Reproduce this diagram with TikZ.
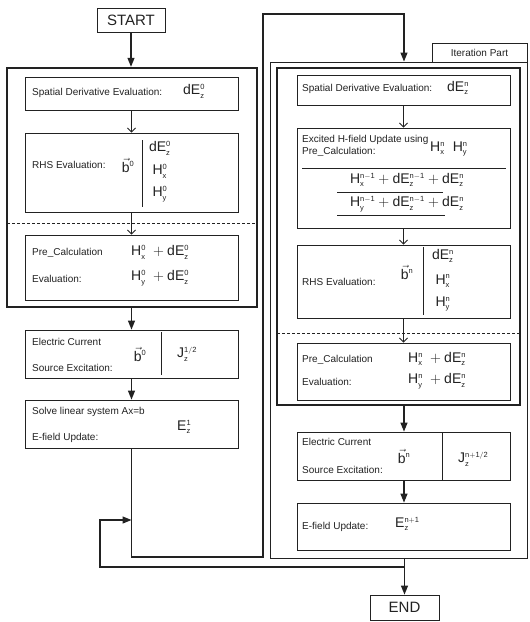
\documentclass[tikz,border=0pt]{standalone}
\usepackage{fontspec}
\setmainfont{Liberation Sans}
\setsansfont{Liberation Sans}
\usetikzlibrary{arrows.meta}
\definecolor{ink}{HTML}{222222}
\DeclareMathSizes{14}{14}{7.5}{6}
\newcommand\mth[1]{{\fontsize{14}{14}\selectfont$\mathrm{#1}$}}
\tikzset{
  box/.style={draw=ink, line width=0.8pt, inner sep=0pt, fill=white},
  thickbox/.style={draw=ink, line width=2.4pt, inner sep=0pt},
  itbox/.style={draw=ink, line width=0.9pt, inner sep=0pt},
  lbl/.style={anchor=west, inner sep=0pt, font=\fontsize{10}{11}\selectfont, text=ink},
  mt/.style={anchor=west, inner sep=0pt, text=ink},
  mc/.style={anchor=center, inner sep=0pt, text=ink},
  darr/.style={draw=ink, line width=1.2pt, -{Triangle[length=9pt,width=7pt]}},
  oarr/.style={draw=ink, line width=0.9pt, -{Straight Barb[length=4pt,width=8pt]}},
  ln/.style={draw=ink, line width=0.9pt},
  sep/.style={draw=ink, line width=0.9pt, dashed, dash pattern=on 3pt off 2pt},
}
\begin{document}
\begin{tikzpicture}[x=1pt,y=-1pt]
\useasboundingbox (0,0) rectangle (530,622);

% ---------- left column ----------
\node[box, minimum width=68, minimum height=24, font=\fontsize{15}{15}\selectfont, text=ink] (start) at (131,20) {START};
\node[thickbox, minimum width=250, minimum height=239] (tL) at (132,187.5) {};
\node[box, minimum width=213, minimum height=33] (sL) at (131.5,93.5) {};
\node[box, minimum width=213, minimum height=79] (rL) at (131.5,172.5) {};
\node[box, minimum width=213, minimum height=65] (pL) at (131.5,267.5) {};
\node[box, minimum width=213, minimum height=48] (eL) at (131.5,354) {};
\node[box, minimum width=213, minimum height=48] (vL) at (131.5,424) {};

\coordinate (dlA) at (7,223);
\coordinate (dlB) at (257,223);
\draw[sep] (dlA) -- (dlB);

\node[lbl] (t1) at (32,93) {Spatial Derivative Evaluation:};
\node[mt] (m1) at (183,91) {\mth{dE_z^0}};

\node[lbl] (t2) at (32,165) {RHS Evaluation:};
\node[mc] (b1) at (128,165) {\mth{\vec{b}^{0}}};
\coordinate (bar1a) at (142,140);
\coordinate (bar1b) at (142,207);
\draw[ln] (bar1a) -- (bar1b);
\node[mc] (s1) at (160,148) {\mth{dE_z^0}};
\node[mc] (s2) at (160,171) {\mth{H_x^0}};
\node[mc] (s3) at (160,194) {\mth{H_y^0}};

\node[lbl] (t3) at (32,253) {Pre\_Calculation};
\node[lbl] (t4) at (32,279) {Evaluation:};
\node[mt] (m2) at (131,252) {\mth{H_x^0\ +dE_z^0}};
\node[mt] (m3) at (131,278) {\mth{H_y^0\ +dE_z^0}};

\node[lbl] (t5) at (32,342) {Electric Current};
\node[lbl] (t6) at (32,368) {Source Excitation:};
\node[mc] (b2) at (140,354) {\mth{\vec{b}^{0}}};
\coordinate (bar2a) at (161,332);
\coordinate (bar2b) at (161,375);
\draw[ln] (bar2a) -- (bar2b);
\node[mt] (j1) at (177,354) {\mth{J_z^{1/2}}};

\node[lbl] (t7) at (32,412) {Solve linear system Ax=b};
\node[lbl] (t8) at (32,438) {E-field Update:};
\node[mt] (e1) at (177,427) {\mth{E_z^1}};

\draw[darr] (start.south) -- (start.south |- tL.north);
\draw[oarr] (sL.south) -- (rL.north);
\draw[oarr] (rL.south) -- (pL.north);
\draw[darr] (tL.south -| eL.north) -- (eL.north);
\draw[darr] (eL.south) -- (vL.north);

% ---------- right column ----------
\node[itbox, minimum width=257, minimum height=496] (iter) at (398.5,310) {};
\node[box, minimum width=95, minimum height=19, font=\fontsize{10}{11}\selectfont, text=ink] (itl) at (479.5,52.5) {Iteration Part};
\node[thickbox, minimum width=243, minimum height=337] (tR) at (398.5,236.5) {};
\node[box, minimum width=213, minimum height=30] (sR) at (403.5,90) {};
\node[box, minimum width=213, minimum height=100] (xR) at (403.5,178) {};
\node[box, minimum width=213, minimum height=73] (rR) at (403.5,281.5) {};
\node[box, minimum width=213, minimum height=57] (pR) at (403.5,371.5) {};
\node[box, minimum width=213, minimum height=48] (eR) at (404,456) {};
\node[box, minimum width=213, minimum height=47] (fR) at (404,526.5) {};

\coordinate (drA) at (277,333);
\coordinate (drB) at (520,333);
\draw[sep] (drA) -- (drB);

\node[lbl] (u1) at (302,89) {Spatial Derivative Evaluation:};
\node[mt] (n1) at (447,88) {\mth{dE_z^n}};

\node[lbl] (u2) at (302,140) {Excited H-field Update using};
\node[lbl] (u3) at (302,152) {Pre\_Calculation:};
\node[mt] (n2) at (430,149) {\mth{H_x^n\ \ H_y^n}};
\coordinate (hlA) at (302,168);
\coordinate (hlB) at (506,168);
\draw[ln] (hlA) -- (hlB);
\node[mc] (n3) at (407,180) {\mth{H_x^{n-1}+dE_z^{n-1}+dE_z^n}};
\coordinate (ulA) at (337,192);
\coordinate (ulB) at (443,192);
\draw[ln] (ulA) -- (ulB);
\node[mc] (n4) at (407,204) {\mth{H_y^{n-1}+dE_z^{n-1}+dE_z^n}};
\coordinate (ulC) at (337,215);
\coordinate (ulD) at (445,215);
\draw[ln] (ulC) -- (ulD);

\node[lbl] (u4) at (302,282) {RHS Evaluation:};
\node[mc] (b3) at (407,272) {\mth{\vec{b}^{n}}};
\coordinate (bar3a) at (423,247);
\coordinate (bar3b) at (423,315);
\draw[ln] (bar3a) -- (bar3b);
\node[mc] (r1) at (443,256) {\mth{dE_z^n}};
\node[mc] (r2) at (443,281) {\mth{H_x^n}};
\node[mc] (r3) at (443,304) {\mth{H_y^n}};

\node[lbl] (u5) at (302,360) {Pre\_Calculation};
\node[lbl] (u6) at (302,382) {Evaluation:};
\node[mt] (n5) at (408,359) {\mth{H_x^n\ +dE_z^n}};
\node[mt] (n6) at (408,381) {\mth{H_y^n\ +dE_z^n}};

\node[lbl] (u7) at (302,442) {Electric Current};
\node[lbl] (u8) at (302,470) {Source Excitation:};
\node[mc] (b4) at (404,456) {\mth{\vec{b}^{n}}};
\coordinate (bar4a) at (442,433);
\coordinate (bar4b) at (442,480);
\draw[ln] (bar4a) -- (bar4b);
\node[mt] (j2) at (458,459) {\mth{J_z^{n+1/2}}};

\node[lbl] (u9) at (302,527) {E-field Update:};
\node[mt] (e2) at (395,524) {\mth{E_z^{n+1}}};

\node[box, minimum width=69, minimum height=25, font=\fontsize{15}{15}\selectfont, text=ink] (end) at (404.5,607.5) {END};

\draw[oarr] (sR.south) -- (xR.north);
\draw[oarr] (xR.south) -- (rR.north);
\draw[oarr] (rR.south) -- (pR.north);
\draw[darr] (tR.south -| eR.north) -- (eR.north);
\draw[darr] (eR.south) -- (fR.north);
\draw[darr] (iter.south -| end.north) -- (end.north);

% ---------- loop connectors ----------
\coordinate (c1) at (131.5,557);
\coordinate (c2) at (263,557);
\coordinate (c3) at (263,14);
\coordinate (c4) at (404,14);
\draw[darr] (vL.south) -- (c1) -- (c2) -- (c3) -- (c4) -- (c4 |- iter.north);

\coordinate (d1) at (404.5,567);
\coordinate (d2) at (100,567);
\coordinate (d3) at (100,520);
\draw[darr] (d1) -- (d2) -- (d3) -- (d3 -| vL.south);
\end{tikzpicture}
\end{document}
